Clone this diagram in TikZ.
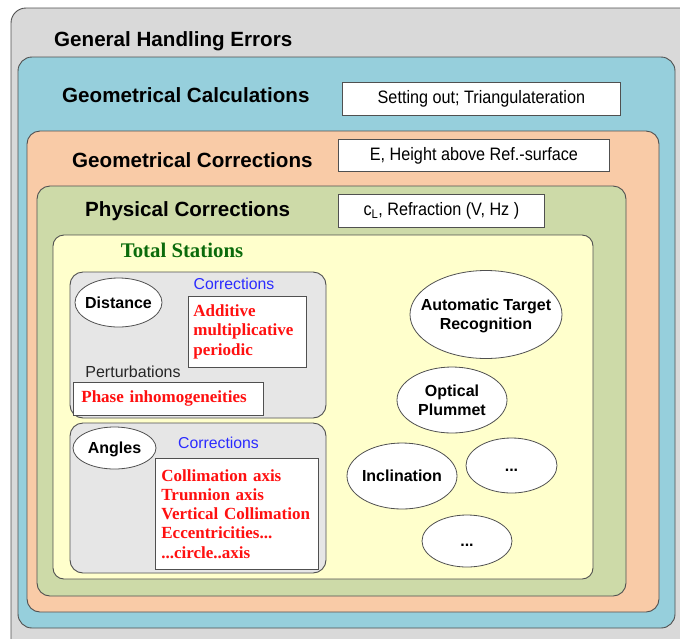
\documentclass[tikz,border=0pt]{standalone}
\usepackage{fontspec}
\setmainfont{Liberation Sans}
\newfontfamily\boxfont[FakeStretch=0.9]{Liberation Sans}
\newfontfamily\serifbold{Liberation Serif}
\usetikzlibrary{shapes.geometric}
\definecolor{linecol}{HTML}{505050}
\definecolor{outergray}{HTML}{D9D9D9}
\definecolor{calcblue}{HTML}{96CFDC}
\definecolor{geoorange}{HTML}{F9CBA7}
\definecolor{physgreen}{HTML}{CDDAA8}
\definecolor{tsyellow}{HTML}{FFFFCC}
\definecolor{innergray}{HTML}{E6E6E6}
\definecolor{tsgreen}{HTML}{0B6B0B}
\definecolor{corrblue}{HTML}{2B2BFF}
\definecolor{redtxt}{HTML}{FF1010}
\newcommand{\ovaltext}[1]{\smash{\makebox[0pt]{\raisebox{-6.5pt}{\begin{tabular}{@{}c@{}}#1\end{tabular}}}}}
\tikzset{
  panel/.style={draw=linecol, line width=0.9pt, rounded corners=#1},
  maintitle/.style={font=\fontsize{20.6}{24}\selectfont\bfseries, anchor=base west, inner sep=0},
  infobox/.style={draw=linecol, line width=0.8pt, fill=white, font=\boxfont\fontsize{18}{20}\selectfont, anchor=north west, minimum height=33, inner sep=0},
  oval/.style={ellipse, draw=linecol, line width=0.8pt, fill=white, inner sep=0, font=\fontsize{16}{19}\selectfont\bfseries},
  redbox/.style={draw=linecol, line width=0.8pt, fill=white, font=\serifbold\bfseries\fontsize{17}{19.3}\selectfont, text=redtxt, align=left, anchor=north west, inner ysep=0},
  bluelabel/.style={font=\fontsize{15.8}{18}\selectfont, text=corrblue, inner sep=0},
  plainlabel/.style={font=\fontsize{16}{18}\selectfont, text=black!85, inner sep=0}
}
\begin{document}
\begin{tikzpicture}[x=1pt,y=-1pt]
\useasboundingbox (0,0) rectangle (680,638);
\clip (0,0) rectangle (680,638);
\fill[white] (0,0) rectangle (680,638);
% containers
\draw[panel=15, fill=outergray] (11,8) rectangle (700,660);
\draw[panel=14, fill=calcblue] (18,57) rectangle (675,628);
\draw[panel=13, fill=geoorange] (27,131) rectangle (659,612);
\draw[panel=13, fill=physgreen] (37,186) rectangle (626,596);
\draw[panel=11, fill=tsyellow] (53,235) rectangle (593,579);
\draw[panel=13, fill=innergray] (70,272) rectangle (326,418);
\draw[panel=13, fill=innergray] (70,423) rectangle (326,573);
% titles
\node[maintitle] (general) at (54,46) {General Handling Errors};
\node[maintitle] (calc) at (62,102) {Geometrical Calculations};
\node[maintitle] (geocorr) at (72,167) {Geometrical Corrections};
\node[maintitle] (phys) at (85,216) {Physical Corrections};
% info boxes
\node[infobox, minimum width=278] (calcbox) at (342,82) {Setting out; Triangulateration};
\node[infobox, minimum width=271, minimum height=32] (geobox) at (338,139) {E, Height above Ref.-surface};
\node[infobox, minimum width=206] (physbox) at (338,194) {c\textsubscript{L}, Refraction (V, Hz )};
% total stations
\node[font=\serifbold\bfseries\fontsize{20.8}{24}\selectfont, text=tsgreen, inner sep=0] (ts) at (182,250) {Total Stations};
% distance group
\node[oval, minimum width=87, minimum height=49] (dist) at (118.5,302.5) {\ovaltext{Distance}};
\node[bluelabel] (dcorr) at (234,284) {Corrections};
\node[redbox, text width=108, inner xsep=5, minimum height=71] (dbox) at (188,296) {Additive\\multiplicative\\periodic};
\node[plainlabel] (pert) at (133,372) {Perturbations};
\node[redbox, text width=174, inner xsep=8, minimum height=33] (pbox) at (73,382) {Phase inhomogeneities};
% angles group
\node[oval, minimum width=83, minimum height=42] (ang) at (114.5,448) {\ovaltext{Angles}};
\node[bluelabel] (acorr) at (218.5,443) {Corrections};
\node[redbox, text width=151, inner xsep=6, minimum height=111] (abox) at (155,458) {Collimation axis\\Trunnion axis\\Vertical Collimation\\Eccentricities...\\...circle..axis};
% other ellipses
\node[oval, minimum width=152, minimum height=88] (atr) at (486,314.5) {\ovaltext{Automatic Target\\Recognition}};
\node[oval, minimum width=110, minimum height=66] (opt) at (452,400) {\ovaltext{Optical\\Plummet}};
\node[oval, minimum width=110, minimum height=66] (incl) at (402,476) {\ovaltext{Inclination}};
\node[oval, minimum width=91, minimum height=55] (dots1) at (511.5,465.5) {\ovaltext{...}};
\node[oval, minimum width=90, minimum height=52] (dots2) at (467,541) {\ovaltext{...}};
\end{tikzpicture}
\end{document}
